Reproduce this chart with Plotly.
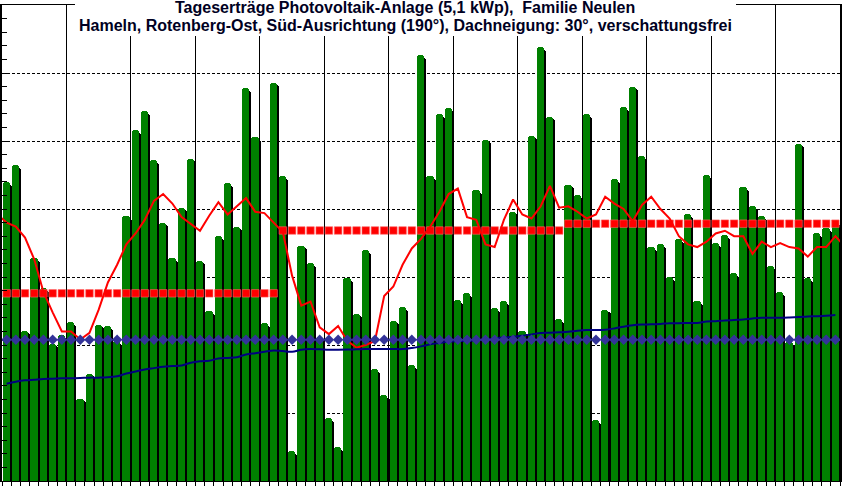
import plotly.graph_objects as go

# ---- data (day index 0 = 1 April, 91 days April-June) ----
days = list(range(91))
yields = [
    22.0, 23.2, 11.05, 16.4, 14.2, 10.1, 10.7, 11.7, 6.05, 7.9,
    11.5, 11.4, 10.3, 19.5, 25.8, 27.2, 23.6, 19.0, 16.4, 20.1,
    23.7, 16.2, 12.5, 18.0, 21.9, 18.7, 28.9, 25.3, 11.6, 29.3,
    22.4, 2.2, 17.3, 16.0, 10.6, 4.6, 2.5, 14.9, 12.3, 17.0,
    8.2, 6.3, 11.8, 12.8, 8.5, 31.3, 22.4, 27.0, 27.4, 13.3,
    13.8, 21.4, 25.1, 12.7, 13.2, 19.8, 11.0, 25.4, 31.9, 26.8,
    11.9, 21.8, 21.0, 27.0, 4.5, 12.6, 22.2, 27.5, 29.0, 23.9,
    17.2, 17.4, 15.0, 17.8, 19.6, 13.2, 22.5, 17.5, 18.1, 15.3,
    21.6, 20.2, 19.5, 15.8, 13.9, 10.2, 24.8, 14.9, 18.2, 18.6,
    19.0,
]
# moving average (includes one day before and one after the period)
ma_days = list(range(-1, 92))
moving_avg = [
    19.6,
    19.0, 18.7, 17.9, 16.3, 13.9, 12.4, 11.0, 11.0, 10.4, 10.9,
    12.6, 14.6, 15.9, 17.4, 18.2, 19.2, 20.6, 21.1, 20.4, 19.4,
    18.9, 18.4, 19.5, 20.5, 19.6, 20.2, 20.8, 19.8, 19.7, 19.0,
    18.3, 15.1, 12.9, 13.2, 11.3, 10.8, 11.4, 10.3, 9.8, 10.0,
    10.3, 13.6, 14.3, 15.9, 17.1, 17.8, 18.7, 19.8, 21.1, 21.5,
    19.4, 19.2, 17.4, 17.2, 19.2, 20.7, 19.6, 19.3, 20.2, 21.7,
    20.1, 20.2, 19.8, 19.3, 19.6, 20.9, 20.4, 20.0, 19.1, 20.3,
    20.9, 20.0, 19.3, 18.0, 17.4, 17.2, 17.6, 18.2, 18.4, 18.0,
    18.0, 16.7, 17.6, 17.2, 17.5, 17.2, 17.1, 16.5, 17.2, 17.2,
    18.0,
    17.25,
]
# long-term reference line (slowly rising)
reference = [
    7.15, 7.3, 7.4, 7.45, 7.5, 7.52, 7.55, 7.55, 7.57, 7.6,
    7.6, 7.62, 7.7, 7.9, 8.05, 8.2, 8.3, 8.4, 8.45, 8.5,
    8.7, 8.8, 8.85, 9.0, 9.05, 9.1, 9.3, 9.4, 9.5, 9.6,
    9.55, 9.5, 9.65, 9.7, 9.68, 9.65, 9.65, 9.66, 9.68, 9.7,
    9.7, 9.7, 9.7, 9.7, 9.78, 9.9, 10.05, 10.15, 10.25, 10.28,
    10.3, 10.35, 10.4, 10.48, 10.55, 10.6, 10.68, 10.78, 10.88, 10.9,
    10.93, 10.97, 11.05, 11.1, 11.1, 11.12, 11.22, 11.35, 11.45, 11.5,
    11.52, 11.55, 11.6, 11.6, 11.62, 11.62, 11.72, 11.75, 11.8, 11.84,
    11.88, 11.95, 12.0, 12.0, 12.0, 12.02, 12.05, 12.1, 12.12, 12.15,
    12.2,
]
constant_level = 10.39
month_days = [30, 31, 30]
month_expected = [13.8, 18.42, 18.92]

monthly = []
for n, v in zip(month_days, month_expected):
    monthly += [v] * n
constant = [constant_level] * len(days)
shadow = [v - 0.2 for v in yields]

fig = go.Figure()
fig.add_trace(go.Bar(x=days, y=shadow, width=0.78, offset=-0.20,
                     marker=dict(color="#000000", line=dict(width=0), cornerradius=3),
                     showlegend=False))
fig.add_trace(go.Bar(x=days, y=yields, width=0.78, offset=-0.42,
                     marker=dict(color="#008000", line=dict(width=0), cornerradius=3),
                     showlegend=False))
fig.add_trace(go.Scatter(x=days, y=monthly, mode="markers",
                         marker=dict(symbol="square", size=7.5, color="#ff0000",
                                     line=dict(width=0.6, color="#ff6060")),
                         showlegend=False))
fig.add_trace(go.Scatter(x=ma_days, y=moving_avg, mode="lines",
                         line=dict(color="#ff0000", width=2), showlegend=False))
fig.add_trace(go.Scatter(x=days, y=reference, mode="lines",
                         line=dict(color="#000080", width=2, shape="spline"), showlegend=False))
fig.add_trace(go.Scatter(x=days, y=constant, mode="markers",
                         marker=dict(symbol="diamond", size=8, color="#333399"),
                         showlegend=False))

fig.update_layout(
    width=845, height=487,
    margin=dict(l=2, r=5, t=5, b=4),
    paper_bgcolor="white", plot_bgcolor="white",
    barmode="overlay", bargap=0,
    font=dict(family="Liberation Sans, Arial, sans-serif"),
    xaxis=dict(range=[-0.5, 90.5], showticklabels=False, tick0=-0.5, dtick=7,
               showgrid=True, gridcolor="#000000", gridwidth=1,
               ticks="outside", ticklen=4, tickcolor="#000000",
               minor=dict(tick0=-0.5, dtick=1, ticks="outside", ticklen=4,
                          tickcolor="#000000", showgrid=False),
               showline=True, linecolor="#000000", linewidth=1, mirror=True,
               zeroline=False),
    yaxis=dict(range=[0, 35], showticklabels=False, dtick=5,
               showgrid=True, gridcolor="#000000", gridwidth=1, griddash="3px,2px",
               ticks="inside", ticklen=5, tickcolor="#000000",
               minor=dict(dtick=1, ticks="inside", ticklen=5, tickcolor="#000000",
                          showgrid=False),
               showline=True, linecolor="#000000", linewidth=2, mirror=True,
               zeroline=False),
    shapes=[dict(type="rect", xref="paper", yref="paper",
                 x0=0.0871, x1=0.8759, y0=0.9351, y1=1.03,
                 fillcolor="white", line=dict(width=0), layer="above")],
    annotations=[
        dict(text="<b>Tageserträge Photovoltaik-Anlage (5,1 kWp),  Familie Neulen</b>",
             xref="paper", yref="paper", x=0.481, y=0.9937, xanchor="center", yanchor="middle",
             showarrow=False, font=dict(size=16, color="#000022")),
        dict(text="<b>Hameln, Rotenberg-Ost, Süd-Ausrichtung (190°), Dachneigung: 30°, verschattungsfrei</b>",
             xref="paper", yref="paper", x=0.481, y=0.956, xanchor="center", yanchor="middle",
             showarrow=False, font=dict(size=16, color="#000022")),
    ],
)

fig.write_html("out.html")
